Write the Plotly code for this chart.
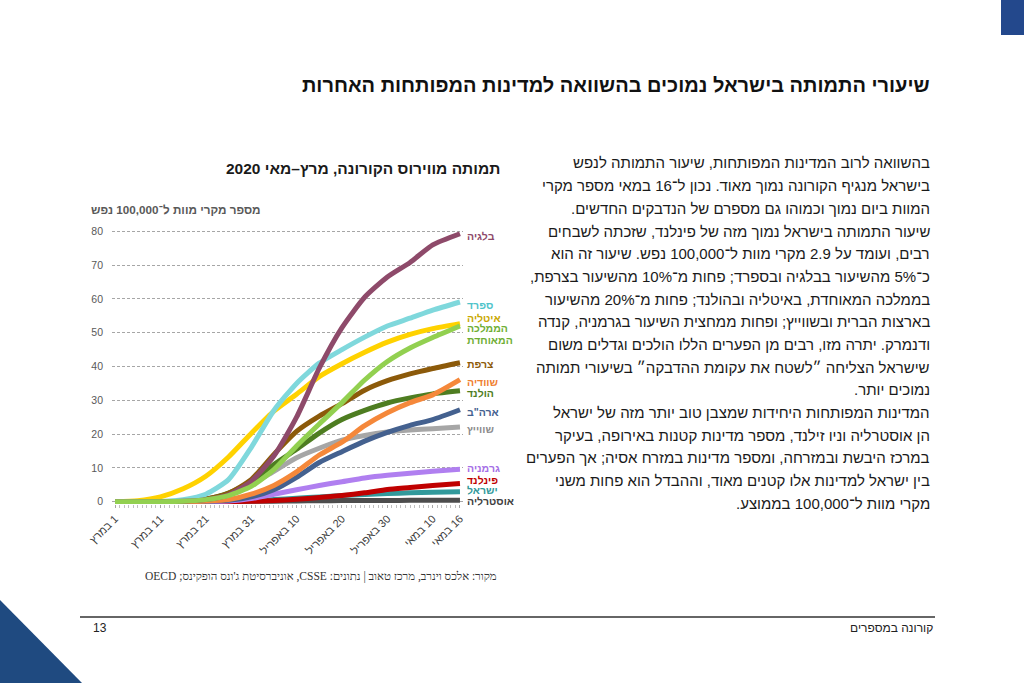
import plotly.graph_objects as go

# ---------------- data ----------------
dates = ["2020-03-01", "2020-03-06", "2020-03-11", "2020-03-16", "2020-03-21", "2020-03-26",
         "2020-03-31", "2020-04-05", "2020-04-10", "2020-04-15", "2020-04-20", "2020-04-25",
         "2020-04-30", "2020-05-05", "2020-05-10", "2020-05-16"]

belgium = [0, 0, 0, 0.1, 0.6, 2.0, 6.0, 13.5, 25.0, 39.5, 51.5, 60.5, 66.5, 70.8, 76.0, 79.3]
spain = [0, 0, 0.05, 0.6, 2.2, 6.5, 16, 27, 35, 41, 45, 48.7, 52, 54.3, 56.7, 59.1]
italy = [0.05, 0.3, 1.4, 3.8, 7.5, 13.2, 20.2, 26.8, 31.8, 37, 40.8, 44.2, 47.2, 49.5, 51.2, 52.7]
uk = [0, 0, 0, 0.1, 0.6, 1.8, 4.5, 9.5, 16.5, 23, 29.3, 36, 41.5, 45.5, 48.6, 52]
france = [0, 0, 0, 0.2, 0.8, 2.5, 6.5, 14, 20.8, 25.3, 29, 33, 35.8, 37.8, 39.4, 41.1]
netherlands = [0, 0, 0, 0.1, 0.7, 2.5, 6, 11, 15.5, 20.3, 24.3, 27, 29.2, 30.7, 31.9, 32.8]
sweden = [0, 0, 0, 0.05, 0.2, 0.6, 2.2, 4.8, 8.8, 13.8, 17.6, 22.5, 26.3, 29.3, 31.6, 36.1]
switzerland = [0, 0, 0.05, 0.2, 0.7, 2, 5, 9, 13, 15.8, 18.2, 19.6, 20.6, 21.2, 21.6, 22.1]
usa = [0, 0, 0, 0.05, 0.1, 0.4, 1.4, 3.5, 7.2, 11.6, 14.8, 17.9, 20.5, 22.6, 24.3, 27.2]
germany = [0, 0, 0, 0, 0.05, 0.2, 0.9, 2.2, 3.5, 4.8, 5.9, 7.0, 7.8, 8.4, 9.0, 9.6]
finland = [0, 0, 0, 0, 0, 0.05, 0.1, 0.3, 0.7, 1.2, 1.8, 2.6, 3.6, 4.2, 4.8, 5.4]
israel = [0, 0, 0, 0, 0, 0.1, 0.2, 0.6, 1.0, 1.4, 1.8, 2.1, 2.4, 2.6, 2.8, 2.9]
australia = [0, 0, 0, 0, 0, 0.02, 0.08, 0.15, 0.2, 0.25, 0.3, 0.33, 0.36, 0.38, 0.39, 0.4]

tick_dates = ["2020-03-01", "2020-03-11", "2020-03-21", "2020-03-31", "2020-04-10",
              "2020-04-20", "2020-04-30", "2020-05-10", "2020-05-16"]
tick_labels = ["1 במרץ", "11 במרץ", "21 במרץ", "31 במרץ", "10 באפריל",
               "20 באפריל", "30 באפריל", "10 במאי", "16 במאי"]
y_ticks = [0, 10, 20, 30, 40, 50, 60, 70, 80]

# (line label(s), values, line colour, label colour, label y position(s))
series = [
    (["אוסטרליה"], australia, "#4d4d4d", "#404040", [0.2]),
    (["ישראל"], israel, "#31999b", "#31999b", [3.3]),
    (["פינלנד"], finland, "#c00000", "#c00000", [6.3]),
    (["גרמניה"], germany, "#b07ff0", "#a56ee6", [9.9]),
    (["שווייץ"], switzerland, "#a6a6a6", "#8c8c8c", [21.5]),
    (["ארה\"ב"], usa, "#44618f", "#44618f", [26.4]),
    (["הולנד"], netherlands, "#4e7d21", "#4e7d21", [32.3]),
    (["שוודיה"], sweden, "#f5883a", "#f08030", [35.5]),
    (["צרפת"], france, "#8c5a0a", "#8c5a0a", [40.6]),
    (["איטליה"], italy, "#ffd200", "#c9a800", [54.4]),
    (["ספרד"], spain, "#7fd8dc", "#4fc3ca", [58.3]),
    (["בלגיה"], belgium, "#8e4a6a", "#8e4a6a", [78.6]),
    (["הממלכה", "המאוחדת"], uk, "#92d050", "#6fae35", [51.5, 47.7]),
]

W, H = 1024, 683
RLE, PDF = "\u202b", "\u202c"


def rtl(s):
    return RLE + s + PDF


def px(x):
    return x / W


def py(y):
    return (H - y) / H


fig = go.Figure()
for names, vals, col, lcol, lys in series:
    fig.add_trace(go.Scatter(x=dates, y=vals, mode="lines", name=names[0],
                             line=dict(color=col, width=5, shape="spline", smoothing=0.6),
                             showlegend=False, hoverinfo="skip"))

annotations = []
for names, vals, col, lcol, lys in series:
    for nm, ly in zip(names, lys):
        annotations.append(dict(x=dates[-1], y=ly, xref="x", yref="y", text="<b>" + rtl(nm) + "</b>",
                                showarrow=False, xanchor="left", yanchor="middle", xshift=5,
                                font=dict(family="Liberation Sans, DejaVu Sans", size=10.5, color=lcol)))

# chart title / axis title / source
annotations.append(dict(x=px(502), y=py(168), xref="paper", yref="paper", showarrow=False,
                        xanchor="right", yanchor="middle",
                        text="<b>" + rtl("תמותה מווירוס הקורונה, מרץ–מאי 2020") + "</b>",
                        font=dict(family="Liberation Sans, DejaVu Sans", size=15.5, color="#1a1a1a")))
annotations.append(dict(x=px(263), y=py(209), xref="paper", yref="paper", showarrow=False,
                        xanchor="right", yanchor="middle",
                        text="<b>" + rtl("מספר מקרי מוות ל־100,000 נפש") + "</b>",
                        font=dict(family="Liberation Sans, DejaVu Sans", size=11.7, color="#595959")))
annotations.append(dict(x=px(499), y=py(576), xref="paper", yref="paper", showarrow=False,
                        xanchor="right", yanchor="middle",
                        text=rtl("מקור: אלכס וינרב, מרכז טאוב | נתונים: CSSE, אוניברסיטת ג'ונס הופקינס; OECD"),
                        font=dict(family="Liberation Serif, DejaVu Serif", size=11.5, color="#333333")))

# page title
annotations.append(dict(x=px(932), y=py(85), xref="paper", yref="paper", showarrow=False,
                        xanchor="right", yanchor="middle",
                        text="<b>" + rtl("שיעורי התמותה בישראל נמוכים בהשוואה למדינות המפותחות האחרות") + "</b>",
                        font=dict(family="Liberation Sans, DejaVu Sans", size=20, color="#111111")))

# body text
body_lines = [
    "בהשוואה לרוב המדינות המפותחות, שיעור התמותה לנפש",
    "בישראל מנגיף הקורונה נמוך מאוד. נכון ל־16 במאי מספר מקרי",
    "המוות ביום נמוך וכמוהו גם מספרם של הנדבקים החדשים.",
    "שיעור התמותה בישראל נמוך מזה של פינלנד, שזכתה לשבחים",
    "רבים, ועומד על 2.9 מקרי מוות ל־100,000 נפש. שיעור זה הוא",
    "כ־5% מהשיעור בבלגיה ובספרד; פחות מ־10% מהשיעור בצרפת,",
    "בממלכה המאוחדת, באיטליה ובהולנד; פחות מ־20% מהשיעור",
    "בארצות הברית ובשווייץ; ופחות ממחצית השיעור בגרמניה, קנדה",
    "ודנמרק. יתרה מזו, רבים מן הפערים הללו הולכים וגדלים משום",
    "שישראל הצליחה ״לשטח את עקומת ההדבקה״ בשיעורי תמותה",
    "נמוכים יותר.",
    "המדינות המפותחות היחידות שמצבן טוב יותר מזה של ישראל",
    "הן אוסטרליה וניו זילנד, מספר מדינות קטנות באירופה, בעיקר",
    "במרכז היבשת ובמזרחה, ומספר מדינות במזרח אסיה; אך הפערים",
    "בין ישראל למדינות אלו קטנים מאוד, וההבדל הוא פחות משני",
    "מקרי מוות ל־100,000 בממוצע.",
]
for i, line in enumerate(body_lines):
    annotations.append(dict(x=px(932), y=py(163 + i * 22.67), xref="paper", yref="paper",
                            showarrow=False, xanchor="right", yanchor="middle", text=rtl(line),
                            font=dict(family="Liberation Sans, DejaVu Sans", size=15, color="#1a1a1a")))

# footer
annotations.append(dict(x=px(91), y=py(628), xref="paper", yref="paper", showarrow=False,
                        xanchor="left", yanchor="middle", text="13",
                        font=dict(family="Liberation Sans Narrow, Liberation Sans", size=12, color="#222222")))
annotations.append(dict(x=px(935), y=py(628), xref="paper", yref="paper", showarrow=False,
                        xanchor="right", yanchor="middle", text=rtl("קורונה במספרים"),
                        font=dict(family="Liberation Sans Narrow, Liberation Sans", size=12, color="#222222")))

shapes = [
    dict(type="rect", xref="paper", yref="paper", x0=px(1001), x1=1, y0=py(35), y1=1,
         fillcolor="#23488c", line=dict(width=0), layer="below"),
    dict(type="path", xref="paper", yref="paper",
         path=f"M 0 {py(600)} L {px(82)} 0 L 0 0 Z",
         fillcolor="#1f4a80", line=dict(width=0), layer="below"),
    dict(type="line", xref="paper", yref="paper", x0=px(80), x1=px(935), y0=py(617), y1=py(617),
         line=dict(color="#333333", width=1.5)),
]

fig.update_layout(
    width=W, height=H,
    margin=dict(l=0, r=0, t=0, b=0, autoexpand=False),
    paper_bgcolor="white", plot_bgcolor="white",
    annotations=annotations, shapes=shapes,
    xaxis=dict(domain=[px(112), px(463)], automargin=False,
               range=["2020-02-29 08:00", "2020-05-16 16:00"],
               tickvals=tick_dates, ticktext=[rtl(t) for t in tick_labels],
               tickangle=-45, tickfont=dict(family="Liberation Sans, DejaVu Sans", size=11, color="#404040"),
               showgrid=False, showline=False, zeroline=False,
               ticks="outside", ticklen=3, tickcolor="#a6a6a6",
               minor=dict(dtick=86400000, ticks="outside", ticklen=3, tickcolor="#bfbfbf")),
    yaxis=dict(domain=[(H - 504) / H, (H - 228) / H], automargin=False, range=[-0.7, 81.0],
               tickvals=y_ticks, tickfont=dict(family="Liberation Sans, DejaVu Sans", size=10.5, color="#595959"),
               showgrid=True, gridcolor="#a6a6a6", griddash="3px,2px", gridwidth=1,
               zeroline=True, zerolinecolor="#a6a6a6", zerolinewidth=1,
               showline=False, ticks="", ticklabelstandoff=8),
)

fig.write_html("out.html", config={"displayModeBar": False},
               post_script="document.body.style.margin='0';document.body.style.overflow='hidden';")
